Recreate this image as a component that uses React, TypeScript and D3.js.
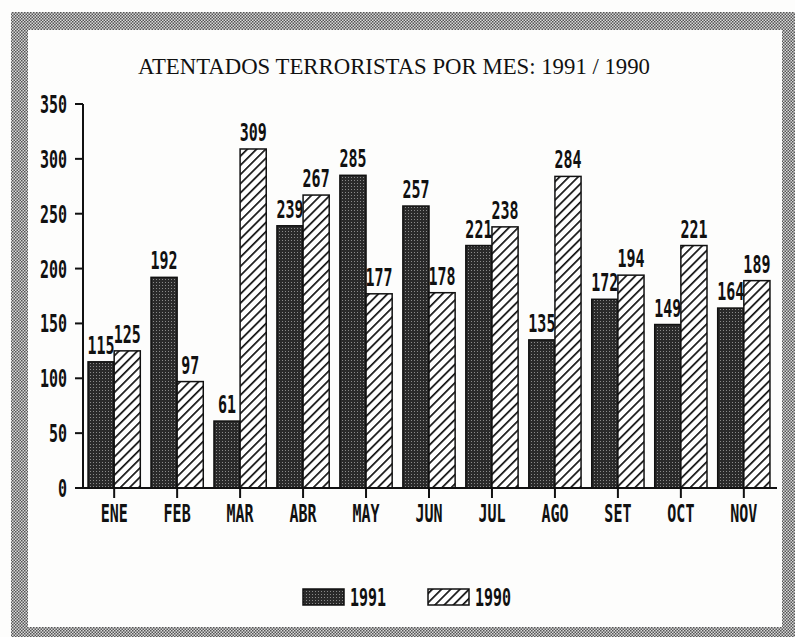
import React, { useEffect, useRef } from 'react';
import * as d3 from 'd3';

const months = ['ENE', 'FEB', 'MAR', 'ABR', 'MAY', 'JUN', 'JUL', 'AGO', 'SET', 'OCT', 'NOV'];
const values1991 = [115, 192, 61, 239, 285, 257, 221, 135, 172, 149, 164];
const values1990 = [125, 97, 309, 267, 177, 178, 238, 284, 194, 221, 189];
const series = ['1991', '1990'];
const yTicks = [0, 50, 100, 150, 200, 250, 300, 350];
const title = 'ATENTADOS TERRORISTAS POR MES: 1991 / 1990';

const W = 795, H = 637;
const monoFont = '"DejaVu Sans Mono", monospace';

function App() {
  const ref = useRef<SVGSVGElement | null>(null);

  useEffect(() => {
    const svg = d3.select(ref.current);
    svg.selectAll('*').remove();

    const defs = svg.append('defs');
    // frame: grey checker
    const fp = defs.append('pattern').attr('id', 'frame')
      .attr('patternUnits', 'userSpaceOnUse').attr('width', 3).attr('height', 3);
    fp.append('rect').attr('width', 3).attr('height', 3).attr('fill', '#d8d8d8');
    fp.append('rect').attr('width', 1.5).attr('height', 1.5).attr('fill', '#555');
    fp.append('rect').attr('x', 1.5).attr('y', 1.5).attr('width', 1.5).attr('height', 1.5).attr('fill', '#555');

    // 1991: dark dotted
    const dp = defs.append('pattern').attr('id', 'dark')
      .attr('patternUnits', 'userSpaceOnUse').attr('width', 3).attr('height', 3);
    dp.append('rect').attr('width', 3).attr('height', 3).attr('fill', '#2a2a2a');
    dp.append('rect').attr('width', 1).attr('height', 1).attr('fill', '#8a8a8a');

    // 1990: diagonal hatch
    const hp = defs.append('pattern').attr('id', 'hatch')
      .attr('patternUnits', 'userSpaceOnUse').attr('width', 6.5).attr('height', 6.5)
      .attr('patternTransform', 'rotate(45)');
    hp.append('rect').attr('width', 6.5).attr('height', 6.5).attr('fill', '#fff');
    hp.append('line').attr('x1', 0).attr('y1', 0).attr('x2', 0).attr('y2', 6.5)
      .attr('stroke', '#111').attr('stroke-width', 3.4);

    const fills = ['url(#dark)', 'url(#hatch)'];

    // background + frame
    svg.append('rect').attr('width', W).attr('height', H).attr('fill', '#fdfdfc');
    svg.append('path')
      .attr('fill-rule', 'evenodd')
      .attr('fill', 'url(#frame)')
      .attr('d', `M11,12 H795 V637 H11 Z M28,30 H782 V627 H28 Z`);

    // title
    svg.append('text')
      .attr('x', 394).attr('y', 74)
      .attr('text-anchor', 'middle')
      .attr('font-family', '"Liberation Serif", serif')
      .attr('font-size', 22.5)
      .attr('textLength', 512)
      .attr('lengthAdjust', 'spacingAndGlyphs')
      .attr('fill', '#111')
      .text(title);

    const x = d3.scaleBand<string>().domain(months).range([83, 775])
      .paddingInner(0.17).paddingOuter(0.08);
    const xs = d3.scaleBand<string>().domain(series).range([0, x.bandwidth()]);
    const y = d3.scaleLinear().domain([0, 350]).range([488, 104]);

    const label = (g: any, px: number, py: number, s: string, anchor = 'middle') => {
      g.append('text')
        .attr('transform', `translate(${px},${py}) scale(0.6,1)`)
        .attr('text-anchor', anchor)
        .attr('font-family', monoFont)
        .attr('font-weight', 'bold')
        .attr('font-size', 25)
        .attr('fill', '#111')
        .text(s);
    };

    // bars
    const data = [values1991, values1990];
    const bars = svg.append('g');
    months.forEach((m, i) => {
      series.forEach((s, j) => {
        const v = data[j][i];
        bars.append('rect')
          .attr('x', x(m)! + xs(s)!)
          .attr('y', y(v))
          .attr('width', xs.bandwidth())
          .attr('height', y(0) - y(v))
          .attr('fill', fills[j])
          .attr('stroke', '#111')
          .attr('stroke-width', 1.5);
      });
    });
    months.forEach((m, i) => {
      series.forEach((s, j) => {
        const v = data[j][i];
        label(svg, x(m)! + xs(s)! + xs.bandwidth() / 2, y(v) - 8, String(v));
      });
    });

    // axes
    const axis = svg.append('g').attr('stroke', '#111').attr('stroke-width', 2);
    axis.append('line').attr('x1', 83).attr('x2', 83).attr('y1', y(350)).attr('y2', y(0));
    axis.append('line').attr('x1', 82).attr('x2', 777).attr('y1', y(0)).attr('y2', y(0));
    yTicks.forEach(t => {
      axis.append('line').attr('x1', 75).attr('x2', 83).attr('y1', y(t)).attr('y2', y(t));
      label(svg, 67, y(t) + 9, String(t), 'end');
    });
    months.forEach(m => {
      const cx = x(m)! + x.bandwidth() / 2;
      axis.append('line').attr('x1', cx).attr('x2', cx).attr('y1', y(0)).attr('y2', y(0) + 10);
      label(svg, cx, 522, m);
    });

    // legend
    const legend = svg.append('g');
    const lx = [303, 428];
    series.forEach((s, j) => {
      legend.append('rect')
        .attr('x', lx[j]).attr('y', 589).attr('width', 41).attr('height', 16)
        .attr('fill', fills[j]).attr('stroke', '#111').attr('stroke-width', 1.5);
      label(legend, lx[j] + 47, 606, s, 'start');
    });
  }, []);

  return (
    <svg ref={ref} width={W} height={H}
      style={{ position: 'absolute', left: 0, top: 0, display: 'block' }} />
  );
}

export default App;
